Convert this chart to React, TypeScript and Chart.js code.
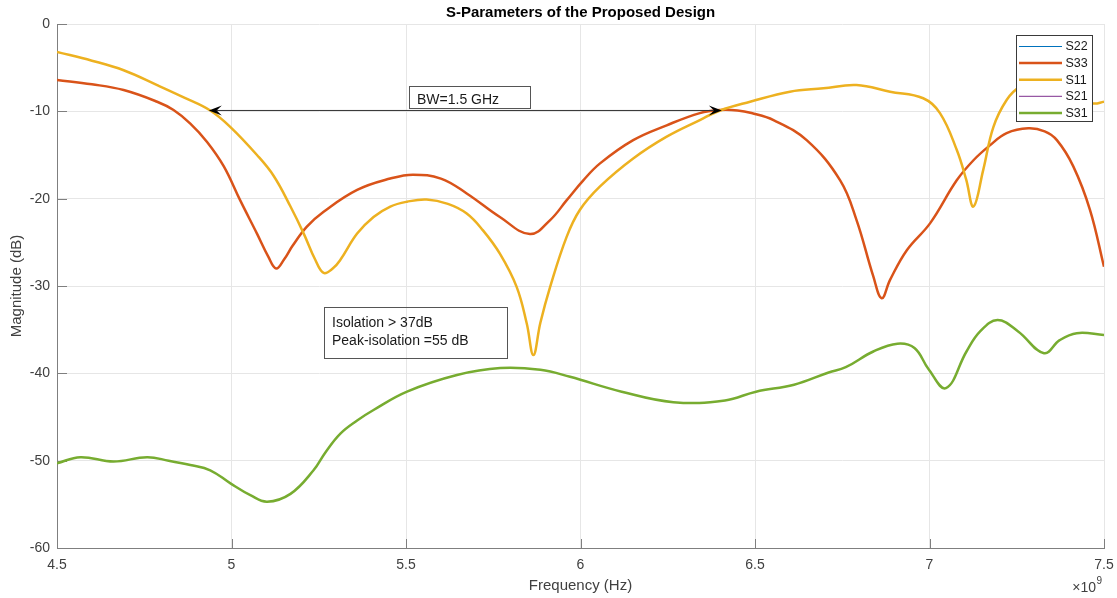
import React, { useEffect, useRef } from 'react';
import { Chart, registerables } from 'chart.js';

Chart.register(...registerables);

// ---------- data ----------
const seriesNames = ['S22', 'S33', 'S11', 'S21', 'S31'];
const seriesColors = ['#0072BD', '#D95319', '#EDB120', '#7E2F8E', '#77AC30'];
const seriesWidths = [1, 2.5, 2.5, 1, 2.5];

const s22Freq: number[] = [];
const s22Mag: number[] = [];
const s21Freq: number[] = [];
const s21Mag: number[] = [];

const s11Freq = [4.5, 4.6, 4.691, 4.787, 4.863, 4.939, 4.997, 5.073, 5.121, 5.169, 5.207, 5.24, 5.264, 5.29, 5.312, 5.36, 5.407, 5.455, 5.503, 5.559, 5.62, 5.674, 5.72, 5.769, 5.817, 5.846, 5.865, 5.885, 5.913, 5.96, 5.998, 6.056, 6.151, 6.247, 6.342, 6.4, 6.486, 6.6, 6.696, 6.791, 6.887, 6.982, 7.03, 7.078, 7.105, 7.126, 7.154, 7.183, 7.221, 7.259, 7.3, 7.35, 7.4, 7.469, 7.5];
const s11Mag = [-3.2, -4.2, -5.3, -7.0, -8.4, -9.9, -11.8, -15.0, -17.4, -20.9, -24.0, -27.0, -28.5, -28.0, -27.0, -24.0, -22.1, -20.9, -20.35, -20.1, -20.6, -21.7, -23.6, -26.3, -30.1, -34.3, -37.9, -34.2, -30.1, -24.4, -21.3, -18.6, -15.4, -12.9, -11.0, -9.9, -8.9, -7.75, -7.37, -6.99, -7.75, -8.5, -10.2, -14.4, -17.8, -20.9, -16.7, -11.8, -8.7, -7.2, -6.9, -7.3, -8.2, -9.1, -8.9];

const s33Freq = [4.5, 4.6, 4.691, 4.787, 4.834, 4.882, 4.93, 4.978, 5.025, 5.073, 5.105, 5.128, 5.15, 5.175, 5.216, 5.264, 5.36, 5.455, 5.52, 5.6, 5.674, 5.769, 5.855, 5.913, 5.96, 6.008, 6.056, 6.151, 6.247, 6.342, 6.4, 6.45, 6.49, 6.553, 6.648, 6.744, 6.791, 6.839, 6.863, 6.887, 6.935, 7.002, 7.078, 7.126, 7.173, 7.221, 7.283, 7.33, 7.365, 7.412, 7.46, 7.5];
const s33Mag = [-6.4, -6.9, -7.56, -8.9, -9.85, -11.4, -13.5, -16.3, -20.2, -24.0, -26.6, -28.0, -27.0, -25.4, -23.2, -21.5, -19.0, -17.7, -17.25, -17.7, -19.4, -22.1, -24.05, -22.45, -20.2, -17.9, -15.96, -13.3, -11.6, -10.2, -9.85, -9.9, -10.2, -11.0, -13.3, -17.9, -22.45, -28.9, -31.4, -29.3, -25.9, -22.8, -17.9, -15.6, -13.9, -12.5, -11.95, -12.3, -13.3, -16.3, -21.3, -27.8];

const s31Freq = [4.5, 4.567, 4.662, 4.758, 4.82, 4.882, 4.939, 4.997, 5.054, 5.102, 5.169, 5.235, 5.27, 5.312, 5.36, 5.407, 5.503, 5.646, 5.77, 5.885, 5.97, 6.118, 6.266, 6.414, 6.503, 6.612, 6.711, 6.76, 6.839, 6.908, 6.957, 6.997, 7.047, 7.106, 7.145, 7.195, 7.254, 7.328, 7.373, 7.422, 7.5];
const s31Mag = [-50.3, -49.6, -50.1, -49.6, -50.0, -50.5, -51.1, -52.6, -53.95, -54.7, -53.8, -51.1, -49.0, -46.9, -45.4, -44.2, -42.1, -40.2, -39.4, -39.6, -40.4, -42.1, -43.3, -43.1, -42.1, -41.3, -39.9, -39.3, -37.5, -36.6, -37.1, -39.5, -41.7, -37.5, -35.2, -33.9, -35.2, -37.7, -36.2, -35.4, -35.6];

const seriesFreqs = [s22Freq, s33Freq, s11Freq, s21Freq, s31Freq];
const seriesMags = [s22Mag, s33Mag, s11Mag, s21Mag, s31Mag];
const drawOrder = [4, 1, 0, 3, 2];

const xMin = 4.5;
const xMax = 7.5;
const xStep = 0.5;
const yMin = -60;
const yMax = 0;
const yStep = 10;

const titleText = 'S-Parameters of the Proposed Design';
const xTitle = 'Frequency (Hz)';
const yTitle = 'Magnitude (dB)';

// annotation values (data units)
const bwLabel = 'BW=1.5 GHz';
const bwArrowFrom = 6.405;
const bwArrowTo = 4.935;
const bwArrowLevel = -9.9;
const bwBox = { x0: 5.509, x1: 5.855, y0: -7.1, y1: -9.66 };
const isoLines = ['Isolation > 37dB', 'Peak-isolation =55 dB'];
const isoBox = { x0: 5.265, x1: 5.789, y0: -32.45, y1: -38.2 };

const FONT = '"Liberation Sans", Arial, Helvetica, sans-serif';
const AXIS_COLOR = '#7f7f7f';
const TEXT_COLOR = '#404040';
const GRID_COLOR = '#e6e6e6';

const decorPlugin = {
  id: 'decor',
  beforeDatasetsDraw(chart: any) {
    const ctx = chart.ctx;
    const { left, bottom } = chart.chartArea;
    const xs = chart.scales.x;
    const ys = chart.scales.y;
    ctx.save();
    ctx.strokeStyle = AXIS_COLOR;
    ctx.lineWidth = 1;
    xs.ticks.forEach((t: any) => {
      const px = Math.round(xs.getPixelForValue(t.value)) + 0.5;
      ctx.beginPath();
      ctx.moveTo(px, bottom);
      ctx.lineTo(px, bottom - 9);
      ctx.stroke();
    });
    ys.ticks.forEach((t: any) => {
      const py = Math.round(ys.getPixelForValue(t.value)) + 0.5;
      ctx.beginPath();
      ctx.moveTo(left, py);
      ctx.lineTo(left + 10, py);
      ctx.stroke();
    });
    ctx.restore();
  },
  afterDraw(chart: any) {
    const ctx = chart.ctx;
    const { left, right, bottom } = chart.chartArea;
    const xs = chart.scales.x;
    const ys = chart.scales.y;
    ctx.save();

    // title
    ctx.fillStyle = '#000';
    ctx.font = `bold 15px ${FONT}`;
    ctx.textAlign = 'center';
    ctx.textBaseline = 'middle';
    ctx.fillText(titleText, (left + right) / 2, 13);

    // exponent
    ctx.fillStyle = TEXT_COLOR;
    ctx.font = `14px ${FONT}`;
    ctx.textAlign = 'right';
    ctx.fillText('\u00d710', right - 8, bottom + 40);
    ctx.font = `10px ${FONT}`;
    ctx.textAlign = 'left';
    ctx.fillText('9', right - 7.5, bottom + 33);

    // BW arrow
    const ay = ys.getPixelForValue(bwArrowLevel);
    const ax0 = xs.getPixelForValue(bwArrowTo);
    const ax1 = xs.getPixelForValue(bwArrowFrom);
    ctx.strokeStyle = '#333';
    ctx.lineWidth = 1;
    ctx.beginPath();
    ctx.moveTo(ax0 + 8, ay);
    ctx.lineTo(ax1 - 8, ay);
    ctx.stroke();
    const head = (tipX: number, dir: number) => {
      const L = 13;
      const W = 5;
      ctx.beginPath();
      ctx.moveTo(tipX, ay);
      ctx.lineTo(tipX - dir * L, ay - W);
      ctx.lineTo(tipX - dir * L * 0.6, ay);
      ctx.lineTo(tipX - dir * L, ay + W);
      ctx.closePath();
      ctx.fillStyle = '#000';
      ctx.fill();
    };
    head(ax0, -1);
    head(ax1, 1);

    // text boxes
    const drawBox = (b: any) => {
      const x0 = Math.round(xs.getPixelForValue(b.x0)) + 0.5;
      const x1 = Math.round(xs.getPixelForValue(b.x1)) + 0.5;
      const y0 = Math.round(ys.getPixelForValue(b.y0)) + 0.5;
      const y1 = Math.round(ys.getPixelForValue(b.y1)) + 0.5;
      ctx.strokeStyle = '#555';
      ctx.lineWidth = 1;
      ctx.strokeRect(x0, y0, x1 - x0, y1 - y0);
      return { x0, y0 };
    };
    ctx.fillStyle = '#1a1a1a';
    ctx.font = `14px ${FONT}`;
    ctx.textAlign = 'left';
    ctx.textBaseline = 'middle';
    const bb = drawBox(bwBox);
    ctx.fillText(bwLabel, bb.x0 + 7.5, bb.y0 + 14);
    const ib = drawBox(isoBox);
    isoLines.forEach((s, i) => ctx.fillText(s, ib.x0 + 7.5, ib.y0 + 15.5 + i * 18.4));

    // legend
    const lx = 1016.5;
    const ly = 35.5;
    ctx.fillStyle = '#fff';
    ctx.fillRect(lx, ly, 76, 86);
    ctx.strokeStyle = '#3a3a3a';
    ctx.lineWidth = 1;
    ctx.strokeRect(lx, ly, 76, 86);
    ctx.font = `12.5px ${FONT}`;
    seriesNames.forEach((name, i) => {
      const ry = 46.5 + i * 16.6;
      ctx.strokeStyle = seriesColors[i];
      ctx.lineWidth = seriesWidths[i];
      ctx.beginPath();
      ctx.moveTo(1019, ry);
      ctx.lineTo(1062, ry);
      ctx.stroke();
      ctx.fillStyle = '#1a1a1a';
      ctx.fillText(name, 1065.5, ry + 0.5);
    });

    ctx.restore();
  },
};

export default function App() {
  const ref = useRef<HTMLCanvasElement | null>(null);
  useEffect(() => {
    document.body.style.margin = '0';
    document.body.style.overflow = 'hidden';
    if (!ref.current) return;
    const datasets = seriesNames.map((name, i) => ({
      label: name,
      data: seriesFreqs[i].map((f, k) => ({ x: f, y: seriesMags[i][k] })),
      borderColor: seriesColors[i],
      backgroundColor: seriesColors[i],
      borderWidth: seriesWidths[i],
      pointRadius: 0,
      fill: false,
      tension: 0.4,
      order: drawOrder[i],
    }));
    const chart = new Chart(ref.current, {
      type: 'line',
      data: { datasets },
      plugins: [decorPlugin],
      options: {
        animation: false,
        responsive: false,
        events: [],
        layout: { padding: { left: 0, right: 13, top: 24, bottom: 0 } },
        plugins: {
          legend: { display: false },
          title: { display: false },
          tooltip: { enabled: false },
        },
        scales: {
          x: {
            type: 'linear',
            min: xMin,
            max: xMax,
            ticks: {
              stepSize: xStep,
              padding: 9,
              color: TEXT_COLOR,
              font: { family: FONT, size: 14 },
              maxRotation: 0,
              autoSkip: false,
              callback: (v: any) => String(Number(v)),
            },
            grid: { color: GRID_COLOR, drawTicks: false, lineWidth: 1 },
            border: { display: true, color: AXIS_COLOR, width: 1 },
            title: {
              display: true,
              text: xTitle,
              color: TEXT_COLOR,
              font: { family: FONT, size: 15 },
              padding: { top: 0, bottom: 3 },
            },
            afterFit(scale: any) {
              scale.height = 50;
              scale.paddingLeft = 0;
              scale.paddingRight = 0;
            },
          },
          y: {
            type: 'linear',
            min: yMin,
            max: yMax,
            ticks: {
              stepSize: yStep,
              padding: 7,
              color: TEXT_COLOR,
              font: { family: FONT, size: 14 },
            },
            grid: { color: GRID_COLOR, drawTicks: false, lineWidth: 1 },
            border: { display: true, color: AXIS_COLOR, width: 1 },
            title: {
              display: true,
              text: yTitle,
              color: TEXT_COLOR,
              font: { family: FONT, size: 15 },
              padding: { top: 8, bottom: 0 },
            },
            afterFit(scale: any) {
              scale.width = 57;
              scale.paddingTop = 0;
              scale.paddingBottom = 0;
            },
          },
        },
      },
    });
    return () => chart.destroy();
  }, []);
  return (
    <div style={{ width: 1117, height: 598, position: 'relative' }}>
      <canvas ref={ref} width={1117} height={598} style={{ display: 'block' }} />
    </div>
  );
}
